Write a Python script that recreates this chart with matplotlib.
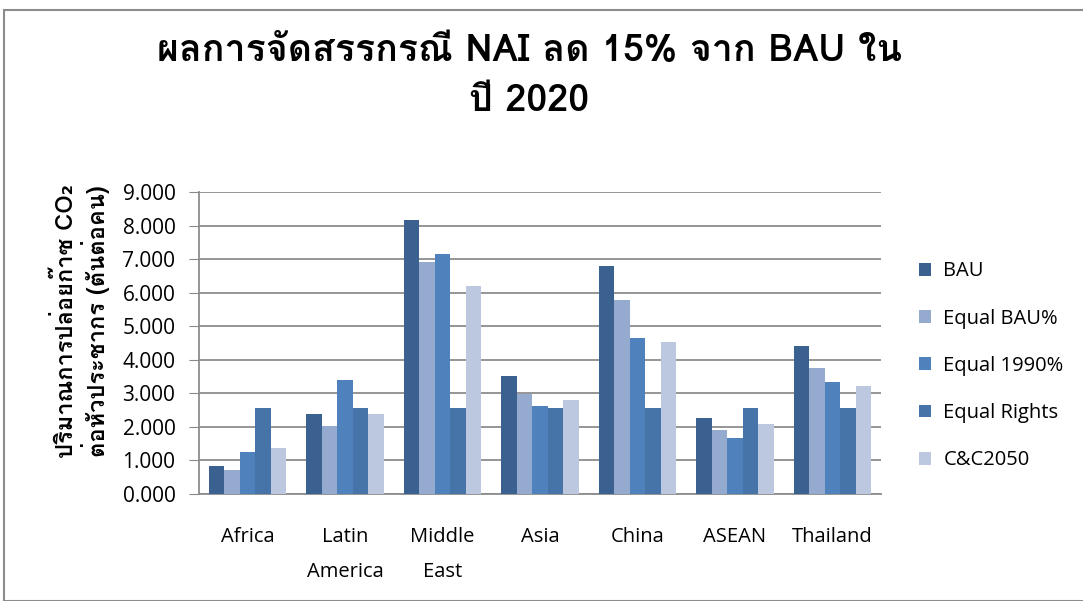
import numpy as np
import matplotlib
matplotlib.use("Agg")
import matplotlib.pyplot as plt

# Loma carries the Thai glyphs, Open Sans for the latin labels
thai = ['Loma', 'DejaVu Sans']
latin = ['Open Sans', 'DejaVu Sans']
plt.rcParams['font.family'] = latin

categories = ['Africa', 'Latin\nAmerica', 'Middle\nEast', 'Asia', 'China', 'ASEAN', 'Thailand']
series = ['BAU', 'Equal BAU%', 'Equal 1990%', 'Equal Rights', 'C&C2050']
bau = [0.83, 2.38, 8.16, 3.52, 6.79, 2.26, 4.41]
equal_bau = [0.72, 2.03, 6.91, 2.98, 5.78, 1.91, 3.75]
equal_1990 = [1.25, 3.40, 7.15, 2.62, 4.65, 1.67, 3.34]
equal_rights = [2.56, 2.56, 2.56, 2.56, 2.56, 2.56, 2.56]
cc2050 = [1.37, 2.38, 6.20, 2.80, 4.53, 2.09, 3.22]
colors = ['#3B6190', '#95AACF', '#4F81BD', '#4673A8', '#BBC8E0']

fig = plt.figure(figsize=(10.83, 6.01), dpi=100)
ax = fig.add_axes([199/1083, 1-494/601, 682/1083, 302/601])

x = np.arange(len(categories))
w = 0.159
for i, (vals, name) in enumerate(zip([bau, equal_bau, equal_1990, equal_rights, cc2050], series)):
    ax.bar(x + (i - 2) * w, vals, w, color=colors[i], label=name, zorder=3)

ax.set_xlim(-0.5, len(categories) - 0.5)
ax.set_ylim(0, 9)
ax.set_yticks(np.arange(0, 10))
ax.set_yticklabels(['%.3f' % v for v in range(10)], fontsize=15)
ax.set_xticks(x)
ax.set_xticklabels(categories, fontsize=14.5, va='top', linespacing=1.95)
ax.tick_params(axis='x', length=0, pad=24)
ax.tick_params(axis='y', length=7, color='#888888', pad=10)
ax.grid(axis='y', color='#8c8c8c', linewidth=1.3, zorder=0)
for s in ['top', 'right']:
    ax.spines[s].set_visible(False)
for s in ['left', 'bottom']:
    ax.spines[s].set_color('#8c8c8c')
    ax.spines[s].set_linewidth(1.3)

ax.set_ylabel('ปริมาณการปล่อยก๊าซ CO₂\nต่อหัวประชากร (ตันต่อคน)', fontsize=17,
              fontweight='bold', family=thai, linespacing=1.1)
ax.yaxis.set_label_coords(-0.131, 0.573)

fig.text(0.489, 0.873, 'ผลการจัดสรรกรณี NAI ลด 15% จาก BAU ใน\nปี 2020',
         ha='center', va='center', fontsize=27, fontweight='bold', family=thai,
         linespacing=1.6)

ax.legend(loc='upper left', bbox_to_anchor=(702/682, 0.83), frameon=False,
          fontsize=14.5, handlelength=0.6, handleheight=0.6, labelspacing=1.35,
          handletextpad=0.6)

fig.add_artist(plt.Rectangle((4/1083, 0), 1, 1 - 10/601, transform=fig.transFigure,
                             fill=False, edgecolor='#8c8c8c', linewidth=1.5))

fig.savefig('out.png', dpi=100)
